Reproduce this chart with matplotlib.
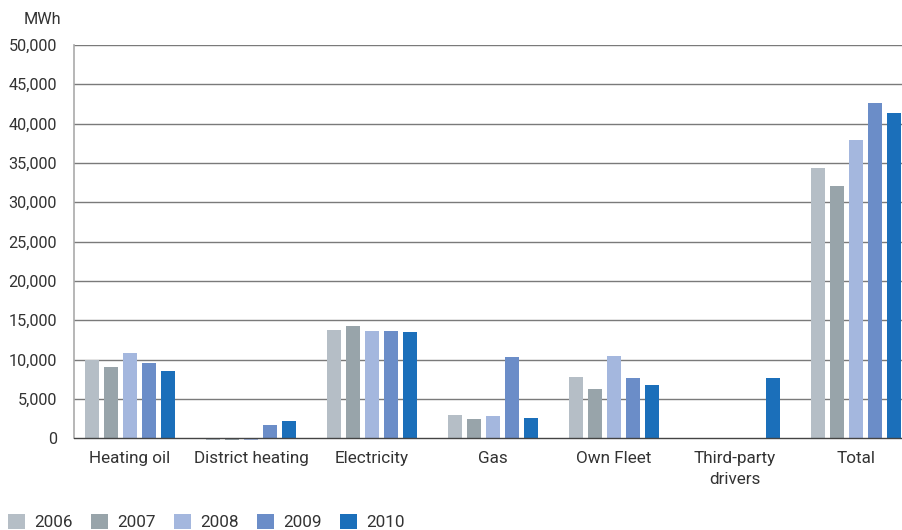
import matplotlib
matplotlib.use("Agg")
import matplotlib.pyplot as plt
import numpy as np
from matplotlib.patches import Patch

categories = ["Heating oil", "District heating", "Electricity", "Gas",
              "Own Fleet", "Third-party\ndrivers", "Total"]
years = ["2006", "2007", "2008", "2009", "2010"]

# energy consumption in MWh, one list per year (order follows categories)
v2006 = [9950, -250, 13780, 2960, 7800, 0, 34390]
v2007 = [9100, -250, 14290, 2460, 6270, 0, 32100]
v2008 = [10850, -250, 13650, 2840, 10470, 0, 37950]
v2009 = [9580, 1650, 13650, 10340, 7670, 0, 42660]
v2010 = [8560, 2200, 13520, 2580, 6780, 7670, 41390]
series = [v2006, v2007, v2008, v2009, v2010]

colors = ["#b5bec6", "#98a4aa", "#a4b7de", "#6b8dc8", "#1b6fba"]
yticks = [0, 5000, 10000, 15000, 20000, 25000, 30000, 35000, 40000, 45000, 50000]

plt.rcParams["font.family"] = ["Roboto", "DejaVu Sans"]
text_color = "#333333"

fig = plt.figure(figsize=(9.02, 5.30), dpi=100)
ax = fig.add_axes([0.0815, 0.1657, 0.9185, 0.7494])

x = np.arange(len(categories))
step = 0.157
width = 0.116
for i, (vals, c) in enumerate(zip(series, colors)):
    ax.bar(x + (i - 2) * step, vals, width=width, color=c, zorder=3,
           linewidth=0)

ax.set_xlim(-0.467, 6.38)
ax.set_ylim(-500, 50000)
ax.set_yticks(yticks)
ax.set_yticklabels([f"{t:,}" for t in yticks], fontsize=11.7, color=text_color)
ax.tick_params(axis="y", length=0, pad=12)
ax.set_xticks(x)
ax.set_xticklabels(categories, fontsize=12.3, color=text_color,
                   linespacing=1.5, va="top")
ax.tick_params(axis="x", length=0, pad=6)

for t in yticks[1:]:
    ax.axhline(t, color="#7a7a7a", linewidth=1.0, zorder=1)
ax.axhline(0, color="#444444", linewidth=1.0, zorder=4)

for s in ["top", "right", "bottom"]:
    ax.spines[s].set_visible(False)
ax.spines["left"].set_color("#aaaaaa")
ax.spines["left"].set_linewidth(1.2)
ax.spines["left"].set_bounds(0, 50000)

fig.text(61 / 902, 1 - 20 / 530, "MWh", ha="right", va="center",
         fontsize=11.7, color=text_color)

handles = [Patch(facecolor=c, edgecolor="none") for c in colors]
fig.legend(handles, years, loc="center left",
           bbox_to_anchor=(8 / 902, 1 - 522 / 530),
           ncol=5, frameon=False, fontsize=12.3, handlelength=1.0,
           handleheight=1.0, handletextpad=0.55, columnspacing=1.05,
           borderaxespad=0.0, borderpad=0.0, labelcolor=text_color)

fig.savefig("out.png", dpi=100)
